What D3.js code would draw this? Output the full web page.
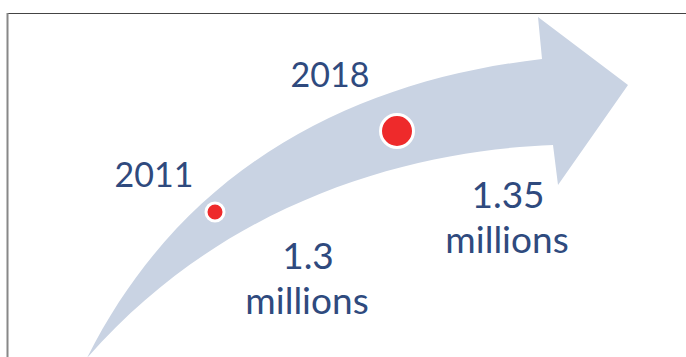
<!DOCTYPE html>
<html>
<head>
<meta charset="utf-8">
<script src="https://cdn.jsdelivr.net/npm/d3@7"></script>
<style>
  body { margin: 0; background: #fff; }
  svg { display: block; }
  text { font-family: Lato, "Noto Sans", sans-serif; fill: #2f4a7e; }
</style>
</head>
<body>
<svg width="686" height="357"></svg>
<script>
// data
var years = [2011, 2018];
var values = [1.3, 1.35];
var valueLabels = ['1.3', '1.35'];
var unit = 'millions';

var svg = d3.select('svg');

// frame (only top and left edges show in the picture)
svg.append('line')
    .attr('x1', 7).attr('y1', 13.5).attr('x2', 686).attr('y2', 13.5)
    .attr('stroke', '#444').attr('stroke-width', 1.2);
svg.append('line')
    .attr('x1', 7.5).attr('y1', 13).attr('x2', 7.5).attr('y2', 357)
    .attr('stroke', '#888').attr('stroke-width', 2);

// the curved arrow behind the points
var p = d3.path();
p.moveTo(87, 358);
p.bezierCurveTo(185, 162, 360, 80, 542, 59);   // upper edge
p.lineTo(538, 17);
p.lineTo(628, 85);                              // tip
p.lineTo(558, 185);
p.lineTo(553, 145);
p.bezierCurveTo(420, 150, 230, 195, 87, 358);  // lower edge
p.closePath();

svg.append('path')
    .attr('d', p.toString())
    .attr('fill', '#c9d3e3');

// scales
var x = d3.scaleLinear().domain([2011, 2018]).range([215, 397]);
var y = d3.scaleLinear().domain([1.3, 1.35]).range([212, 131]);
var r = d3.scaleLinear().domain([1.3, 1.35]).range([9, 16.5]);

var points = years.map(function(d, i) {
    return { year: d, value: values[i], label: valueLabels[i] };
});

// where the labels sit relative to their point
var yearOffset = [[-61, -25], [-67, -44]];
var valueOffset = [[93, 57], [111, 77]];

svg.selectAll('.dot')
    .data(points)
    .enter()
    .append('circle')
    .attr('class', 'dot')
    .attr('cx', function(d) { return x(d.year); })
    .attr('cy', function(d) { return y(d.value); })
    .attr('r', function(d) { return r(d.value); })
    .attr('fill', '#ee2a2b')
    .attr('stroke', '#fff')
    .attr('stroke-width', 3);

svg.selectAll('.year')
    .data(points)
    .enter()
    .append('text')
    .attr('class', 'year')
    .attr('x', function(d, i) { return x(d.year) + yearOffset[i][0]; })
    .attr('y', function(d, i) { return y(d.value) + yearOffset[i][1]; })
    .attr('text-anchor', 'middle')
    .style('font-size', '34px')
    .text(function(d) { return d.year; });

var vals = svg.selectAll('.value')
    .data(points)
    .enter()
    .append('text')
    .attr('class', 'value')
    .attr('text-anchor', 'middle')
    .style('font-size', '37px');

vals.append('tspan')
    .attr('x', function(d, i) { return x(d.year) + valueOffset[i][0]; })
    .attr('y', function(d, i) { return y(d.value) + valueOffset[i][1]; })
    .text(function(d) { return d.label; });

vals.append('tspan')
    .attr('x', function(d, i) { return x(d.year) + valueOffset[i][0] - 1; })
    .attr('y', function(d, i) { return y(d.value) + valueOffset[i][1] + 45; })
    .text(unit);
</script>
</body>
</html>
